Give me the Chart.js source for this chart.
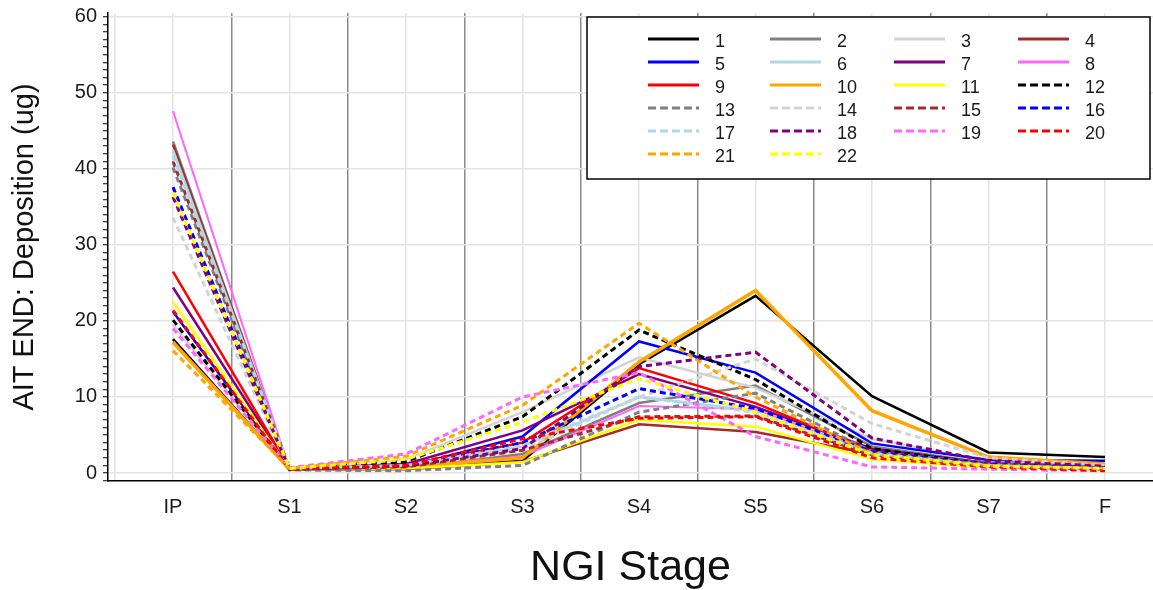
<!DOCTYPE html>
<html>
<head>
<meta charset="utf-8">
<script src="https://cdn.jsdelivr.net/npm/chart.js@4.4.0/dist/chart.umd.min.js"></script>
<style>
    html, body { margin: 0; padding: 0; background: #fff; overflow: hidden; }
    #wrap { width: 1153px; height: 590px; position: relative; }
</style>
</head>
<body>
<div id="wrap"><canvas id="chart"></canvas></div>
<script>
/* ---------- DATA ---------- */
const stages = ["IP", "S1", "S2", "S3", "S4", "S5", "S6", "S7", "F"];
const seriesNames = ["1","2","3","4","5","6","7","8","9","10","11","12","13","14","15","16","17","18","19","20","21","22"];

const s1  = [17.6, 0.5, 0.6, 1.6, 14.3, 23.3, 10.1, 2.7, 2.1];
const s2  = [43.6, 0.5, 0.6, 2.5, 9.2, 11.5, 3.5, 1.3, 0.9];
const s3  = [19.5, 0.6, 1.8, 8.0, 15.2, 11.2, 4.5, 1.5, 1.0];
const s4  = [43.2, 0.5, 0.5, 1.5, 6.4, 5.4, 2.5, 1.0, 0.6];
const s5  = [21.2, 0.6, 0.8, 4.8, 17.3, 13.2, 3.9, 1.7, 1.6];
const s6  = [42.5, 0.5, 0.9, 3.5, 10.0, 8.2, 3.0, 1.2, 0.8];
const s7  = [24.4, 0.6, 1.2, 5.6, 13.0, 8.7, 3.2, 1.3, 0.9];
const s8  = [47.6, 0.5, 0.8, 2.2, 8.8, 8.4, 2.6, 1.0, 0.7];
const s9  = [26.5, 0.6, 1.0, 4.0, 13.8, 9.2, 2.9, 1.0, 0.6];
const s10 = [17.2, 0.5, 0.8, 2.0, 14.6, 24.0, 8.2, 2.1, 1.2];
const s11 = [22.5, 0.5, 0.6, 1.4, 7.0, 6.1, 1.8, 0.7, 0.5];
const s12 = [20.1, 0.6, 1.5, 7.4, 18.8, 12.3, 3.2, 1.1, 0.6];
const s13 = [40.2, 0.4, 0.3, 1.0, 8.0, 10.5, 2.8, 1.2, 0.8];
const s14 = [33.6, 0.5, 1.0, 3.0, 10.0, 15.0, 6.5, 2.0, 1.0];
const s15 = [41.0, 0.5, 0.8, 3.0, 7.4, 7.5, 2.4, 0.9, 0.5];
const s16 = [37.6, 0.5, 1.0, 4.0, 11.1, 8.5, 2.8, 1.1, 0.7];
const s17 = [41.7, 0.6, 1.0, 3.6, 10.0, 8.0, 2.6, 1.0, 0.6];
const s18 = [36.3, 0.5, 0.9, 3.2, 14.0, 15.9, 4.6, 1.6, 0.9];
const s19 = [19.0, 0.7, 2.5, 10.0, 13.2, 4.8, 0.8, 0.5, 0.3];
const s20 = [21.4, 0.5, 1.0, 4.5, 7.2, 7.4, 2.0, 0.8, 0.3];
const s21 = [16.1, 0.6, 2.2, 8.9, 19.7, 10.0, 2.5, 1.0, 0.6];
const s22 = [36.9, 0.6, 1.8, 6.7, 12.4, 8.0, 2.4, 0.9, 0.6];

const allSeries = [s1, s2, s3, s4, s5, s6, s7, s8, s9, s10, s11,
                   s12, s13, s14, s15, s16, s17, s18, s19, s20, s21, s22];

/* ---------- STYLES ---------- */
const palette = ["#000000", "#808080", "#d3d3d3", "#a52a2a", "#0000ff", "#add8e6",
                 "#800080", "#ff66ff", "#ff0000", "#ffa500", "#ffff00"];
const FONT = "'Liberation Sans', Arial, sans-serif";

function seriesColor(i) { return palette[i % 11]; }
function isDashed(i) { return i >= 11; }

/* ---------- LEGEND IN A BOX ---------- */
const boxLegend = {
    id: "boxLegend",
    afterDraw(chart) {
        const ctx = chart.ctx;
        ctx.save();
        ctx.fillStyle = "#fff";
        ctx.fillRect(587, 17, 563, 162);
        ctx.strokeStyle = "#000";
        ctx.lineWidth = 1.5;
        ctx.strokeRect(587, 17, 563, 162);

        const colX = [648, 770, 894, 1018];
        chart.data.datasets.forEach((ds, i) => {
            const x = colX[i % 4];
            const y = 39 + Math.floor(i / 4) * 23;
            ctx.beginPath();
            ctx.setLineDash(ds.borderDash.length ? [8, 4] : []);
            ctx.strokeStyle = ds.borderColor;
            ctx.lineWidth = 3;
            ctx.moveTo(x, y);
            ctx.lineTo(x + 51, y);
            ctx.stroke();
            ctx.setLineDash([]);
            ctx.fillStyle = "#1a1a1a";
            ctx.font = "18px " + FONT;
            ctx.textBaseline = "middle";
            ctx.fillText(ds.label, x + 67, y + 3);
        });
        ctx.restore();
    }
};

/* ---------- CHART ---------- */
const datasets = allSeries.map((vals, i) => ({
    label: seriesNames[i],
    data: vals.map((v, k) => ({ x: k, y: v })),
    borderColor: seriesColor(i),
    backgroundColor: seriesColor(i),
    borderWidth: i === 9 ? 3.5 : (i === 7 ? 2 : (isDashed(i) ? 3 : 2.5)),
    borderDash: isDashed(i) ? [6, 4] : [],
    pointRadius: 0,
    tension: 0,
    fill: false,
    order: -i
}));

const isHalf = v => Math.abs(v - Math.round(v)) > 0.25;

new Chart(document.getElementById("chart"), {
    type: "line",
    data: { datasets },
    options: {
        responsive: true,
        maintainAspectRatio: false,
        animation: false,
        layout: { padding: { top: 13, right: 0, bottom: 0, left: 0 } },
        plugins: {
            legend: { display: false },
            tooltip: { enabled: false }
        },
        scales: {
            x: {
                type: "linear",
                min: -0.558,
                max: 8.412,
                afterFit: s => { s.height = 109; s.paddingLeft = 0; s.paddingRight = 0; },
                border: { color: "#000", width: 1.5 },
                grid: {
                    color: c => (isHalf(c.tick.value) && c.tick.value > 0 && c.tick.value < 8) ? "#8a8a8a" : "#e4e4e4",
                    lineWidth: 1.5,
                    drawTicks: false
                },
                ticks: {
                    stepSize: 0.5,
                    autoSkip: false,
                    includeBounds: false,
                    maxRotation: 0,
                    padding: 14,
                    color: "#1a1a1a",
                    font: { family: FONT, size: 20 },
                    callback: v => isHalf(v) ? "" : (stages[Math.round(v)] || "")
                },
                title: {
                    display: true,
                    text: "NGI Stage",
                    color: "#111",
                    font: { family: FONT, size: 43, lineHeight: 1.0 },
                    padding: { top: 0, bottom: 0 }
                }
            },
            y: {
                type: "linear",
                min: -1.05,
                max: 60.5,
                afterFit: s => { s.width = 108; s.paddingTop = 0; s.paddingBottom = 0; },
                border: { color: "#000", width: 1.5 },
                grid: {
                    color: c => Math.abs(c.tick.value % 10) < 1e-6 ? "#e4e4e4" : "rgba(0,0,0,0)",
                    lineWidth: 1.5,
                    drawTicks: true,
                    tickColor: "#000",
                    tickLength: 5,
                    tickWidth: 1
                },
                ticks: {
                    stepSize: 1,
                    autoSkip: false,
                    includeBounds: false,
                    padding: 6,
                    color: "#1a1a1a",
                    font: { family: FONT, size: 20 },
                    callback: v => Math.abs(v % 10) < 1e-6 ? v : ""
                },
                title: {
                    display: true,
                    text: "AIT END: Deposition (ug)",
                    color: "#111",
                    font: { family: FONT, size: 29 },
                    padding: { top: 8, bottom: 0 }
                }
            }
        }
    },
    plugins: [boxLegend]
});
</script>
</body>
</html>
